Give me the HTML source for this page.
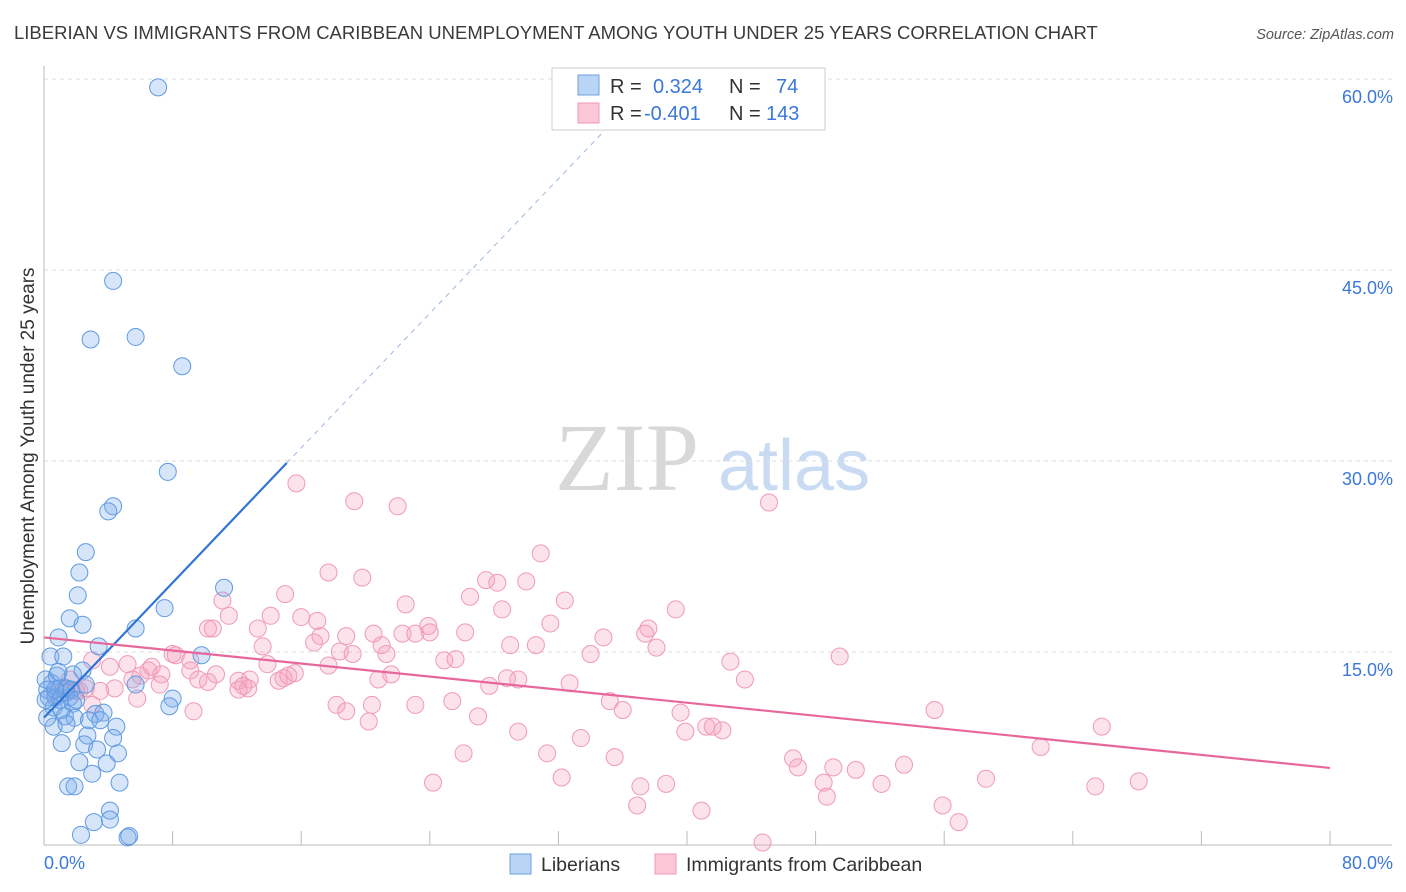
<!DOCTYPE html>
<html><head><meta charset="utf-8">
<style>
body{margin:0;background:#fff;font-family:"Liberation Sans",sans-serif;}
svg{display:block}
</style></head>
<body>
<svg id="chart" width="1406" height="892" xmlns="http://www.w3.org/2000/svg">
<text x="14" y="39" font-size="18.5" fill="#3a3a3a" font-family="Liberation Sans, sans-serif">LIBERIAN VS IMMIGRANTS FROM CARIBBEAN UNEMPLOYMENT AMONG YOUTH UNDER 25 YEARS CORRELATION CHART</text>
<text x="1394" y="39" font-size="14.5" fill="#555" font-style="italic" text-anchor="end">Source: ZipAtlas.com</text>
<g>
<text x="555" y="490" font-size="96" fill="#d8d8d8" font-family="Liberation Serif, serif">ZIP</text>
<text x="718" y="490" font-size="72" fill="#c9dbf2">atlas</text>
</g>
<g id="grid"></g>
<g id="axes"></g>
<g id="pts"></g>
<g id="lines"></g>
<text transform="translate(34,456) rotate(-90)" font-size="19" fill="#333" text-anchor="middle">Unemployment Among Youth under 25 years</text>
<g>
<rect x="552" y="68" width="273" height="62" fill="#fff" stroke="#ccc"/>
<rect x="578" y="75" width="21" height="20" fill="#b9d4f5" stroke="#6fa1e0"/>
<rect x="578" y="103" width="21" height="20" fill="#fcc8d8" stroke="#ee99b5"/>
<text x="610" y="93" font-size="20" fill="#333">R =</text><text x="653" y="93" font-size="20" fill="#3b78d8">0.324</text>
<text x="729" y="93" font-size="20" fill="#333">N =</text><text x="776" y="93" font-size="20" fill="#3b78d8">74</text>
<text x="610" y="120" font-size="20" fill="#333">R =</text><text x="644" y="120" font-size="20" fill="#3b78d8">-0.401</text>
<text x="729" y="120" font-size="20" fill="#333">N =</text><text x="766" y="120" font-size="20" fill="#3b78d8">143</text>
</g>
<g>
<rect x="510" y="854" width="21" height="20" fill="#b9d4f5" stroke="#6fa1e0"/>
<text x="541" y="871" font-size="19.5" fill="#333">Liberians</text>
<rect x="655" y="854" width="21" height="20" fill="#fcc8d8" stroke="#ee99b5"/>
<text x="686" y="871" font-size="19.5" fill="#333">Immigrants from Caribbean</text>
</g>
</svg>
<script>
const yTicks=[15,30,45,60];
const yTickLabels=["15.0%","30.0%","45.0%","60.0%"];
const xEndLabels=["0.0%","80.0%"];
const libX=[7.1,4.3,2.9,5.7,8.6,7.7,4.3,4.0,2.6,2.2,2.1,1.6,2.4,11.2,7.5,5.7,0.9,3.4,9.8,0.4,1.2,1.8,2.4,0.5,0.1,1.0,0.3,0.7,1.4,1.6,0.6,1.1,1.8,5.7,8.0,7.8,1.3,1.9,3.2,3.7,2.8,4.5,0.6,1.4,2.7,1.1,4.3,2.5,3.3,4.6,3.9,2.2,3.0,4.7,1.5,1.9,4.1,4.1,3.1,2.3,5.2,5.3,1.0,0.2,0.8,1.4,3.5,1.7,0.1,0.9,0.2,2.0,2.6,0.7];
const libY=[59.5,44.3,39.7,39.9,37.6,29.3,26.6,26.2,23.0,21.4,19.6,17.8,17.3,20.2,18.6,17.0,16.3,15.6,14.9,14.8,14.8,13.4,13.7,12.7,13.0,12.3,11.6,11.6,12.3,11.6,10.8,10.6,11.1,12.6,11.5,10.9,10.1,10.0,10.3,10.4,9.8,9.3,9.3,9.5,8.6,8.0,8.4,7.9,7.5,7.2,6.4,6.5,5.6,4.9,4.6,4.6,2.7,2.0,1.8,0.8,0.6,0.7,11.4,12.2,13.3,12.0,9.8,12.2,11.4,13.6,10.0,11.4,12.6,12.2];
const carX=[15.7,19.3,22.0,45.1,30.9,17.7,19.8,27.5,28.2,30.0,15.0,11.1,22.5,26.5,32.4,39.3,28.5,11.5,14.1,16.0,17.0,31.5,10.2,10.5,13.3,23.9,37.6,17.2,18.8,20.5,22.3,23.1,24.0,26.2,34.8,37.4,16.8,21.0,29.0,30.6,38.1,13.6,18.4,19.2,21.3,24.9,25.6,34.0,49.5,8.0,8.2,5.2,3.0,6.7,4.1,6.5,9.1,10.7,13.9,15.6,17.7,20.8,21.6,7.3,6.0,5.5,4.4,3.5,1.3,2.2,7.2,9.6,10.2,12.1,12.8,14.6,14.9,15.2,12.4,12.7,12.1,28.8,29.5,32.7,27.7,43.6,42.7,9.1,5.8,9.3,18.2,18.8,20.4,23.1,25.4,35.2,36.0,39.6,20.2,27.0,55.4,41.2,39.9,41.6,42.2,65.8,29.5,33.4,35.5,26.1,31.3,62.0,46.6,49.1,50.5,46.9,53.5,32.2,24.2,37.1,38.7,48.5,52.1,58.6,65.4,68.1,48.7,36.9,40.9,55.9,56.9,44.7,2.0,2.6,0.7,1.6,3.0];
const carY=[28.4,27.0,26.6,26.9,22.9,21.4,21.0,20.8,20.6,20.7,19.7,19.2,18.9,19.5,19.2,18.5,18.5,18.0,18.0,17.9,17.6,17.4,17.0,17.0,17.0,17.2,17.0,16.4,16.4,16.6,16.6,16.6,16.7,16.7,16.3,16.6,15.9,15.7,15.7,15.7,15.5,15.6,15.2,15.0,15.0,14.5,14.6,15.0,14.8,15.0,14.9,14.2,14.5,14.0,14.0,13.7,13.7,13.4,14.2,13.5,14.1,13.0,13.4,13.4,13.3,13.0,12.3,12.1,12.2,12.1,12.6,13.0,12.8,12.9,13.0,12.9,13.1,13.3,12.5,12.3,12.2,13.1,13.0,12.7,12.5,13.0,14.4,14.5,11.5,10.5,11.0,10.5,11.0,11.0,11.3,11.3,10.6,10.4,9.7,10.1,10.6,9.3,8.9,9.3,9.0,9.3,8.9,8.4,6.9,7.2,7.2,7.7,6.8,6.1,5.9,6.1,6.3,5.3,4.9,4.6,4.8,4.9,4.8,5.2,4.6,5.0,3.8,3.1,2.7,3.1,1.8,0.2,12.1,12.3,11.8,13.0,11.0];
const libTrend=[[0,10.0],[15.1,30.0]];
const libTrendDash=[[15.1,30.0],[36.0,57.6]];
const carTrend=[[0,16.3],[80,6.05]];

const NS="http://www.w3.org/2000/svg";
const X0=44,X1=1330,Y0=845,PPY=191/15;
function sx(v){return X0+(X1-X0)*v/80;}
function sy(v){return Y0-v*PPY;}
function mk(tag,attrs,parent){const e=document.createElementNS(NS,tag);for(const k in attrs)e.setAttribute(k,attrs[k]);parent.appendChild(e);return e;}
const gridG=document.getElementById('grid'),axesG=document.getElementById('axes'),ptsG=document.getElementById('pts'),linesG=document.getElementById('lines');
yTicks.forEach((t,i)=>{
 const l=mk('line',{x1:X0,x2:1392,y1:sy(t)-2,y2:sy(t)-2,stroke:'#dcdcdc','stroke-dasharray':'4,4'},gridG);
 
 
 const tx=mk('text',{x:1393,y:sy(t)+22,'font-size':18,fill:'#3b78d8','text-anchor':'end'},axesG);
 tx.textContent=yTickLabels[i];
 
 
});
const ya=mk('line',{x1:X0,x2:X0,y1:66,y2:Y0,stroke:'#bbb'},axesG);


const xa=mk('line',{x1:X0,x2:1392,y1:Y0,y2:Y0,stroke:'#bbb'},axesG);


for(let v=8;v<=80;v+=8){const t=mk('line',{x1:sx(v),x2:sx(v),y1:Y0,y2:Y0-14,stroke:'#bbb'},axesG);
 
 }
const xl0=mk('text',{x:X0,y:869,'font-size':18,fill:'#3b78d8'},axesG);xl0.textContent=xEndLabels[0];


const xl1=mk('text',{x:1393,y:869,'font-size':18,fill:'#3b78d8','text-anchor':'end'},axesG);xl1.textContent=xEndLabels[1];


carX.forEach((x,i)=>{const c=mk('circle',{cx:sx(x),cy:sy(carY[i]),r:8.5,fill:'rgba(246,160,190,0.3)',stroke:'#ef9ab8','stroke-width':1},ptsG);
 
 });
libX.forEach((x,i)=>{const c=mk('circle',{cx:sx(x),cy:sy(libY[i]),r:8.5,fill:'rgba(120,170,235,0.3)',stroke:'#5f9ae0','stroke-width':1},ptsG);
 
 });
const l1=mk('line',{x1:sx(libTrend[0][0]),y1:sy(libTrend[0][1]),x2:sx(libTrend[1][0]),y2:sy(libTrend[1][1]),stroke:'#2f74d6','stroke-width':2.2},linesG);


const l2=mk('line',{x1:sx(libTrendDash[0][0]),y1:sy(libTrendDash[0][1]),x2:sx(libTrendDash[1][0]),y2:sy(libTrendDash[1][1]),stroke:'#9bb8e0','stroke-width':1,'stroke-dasharray':'5,5'},linesG);


const l3=mk('line',{x1:sx(carTrend[0][0]),y1:sy(carTrend[0][1]),x2:sx(carTrend[1][0]),y2:sy(carTrend[1][1]),stroke:'#e8679a','stroke-width':2.2},linesG);


</script>
</body></html>
